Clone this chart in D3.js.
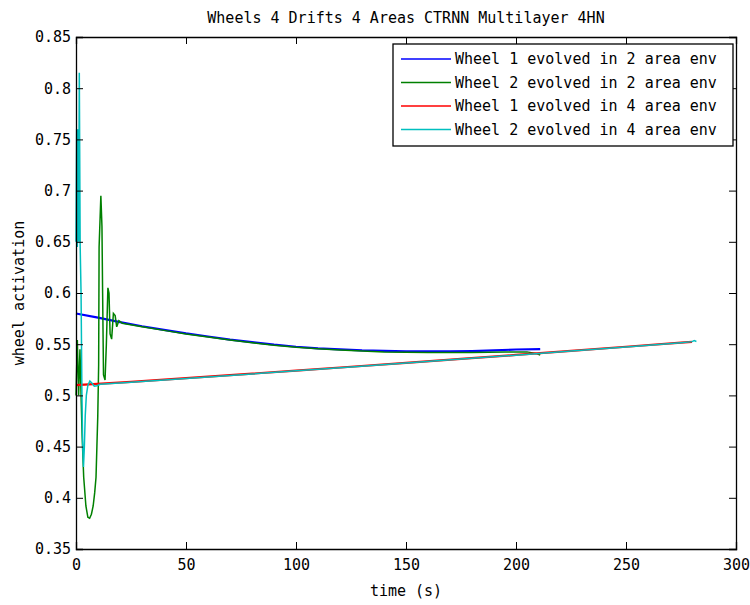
<!DOCTYPE html>
<html>
<head>
<meta charset="utf-8">
<script src="https://cdn.jsdelivr.net/npm/d3@7"></script>
<style>
  body { margin: 0; background: #fff; }
  svg text { font-family: "DejaVu Sans Mono", monospace; fill: #000; }
</style>
</head>
<body>
<svg id="chart" width="750" height="605"></svg>
<script>
// values
const xTicks = [0, 50, 100, 150, 200, 250, 300];
const yTicks = [0.35, 0.4, 0.45, 0.5, 0.55, 0.6, 0.65, 0.7, 0.75, 0.8, 0.85];

const wheel1Area2 = [
  [0, 0.58], [10, 0.576], [20, 0.5715], [30, 0.5675], [40, 0.564], [50, 0.5605],
  [60, 0.5575], [70, 0.5545], [80, 0.552], [90, 0.5495], [100, 0.5475], [110, 0.546],
  [120, 0.545], [130, 0.544], [140, 0.5435], [150, 0.543], [160, 0.543], [170, 0.543],
  [180, 0.5433], [190, 0.544], [200, 0.5448], [211, 0.5452]
];
const wheel2Area2 = [
  [0, 0.5], [0.6, 0.554], [1.2, 0.5], [1.8, 0.545], [2.3, 0.5], [2.8, 0.46],
  [3.5, 0.42], [4.5, 0.392], [5.4, 0.381], [6.2, 0.38], [7, 0.384], [7.8, 0.392],
  [8.5, 0.405], [9.1, 0.42], [9.5, 0.45], [9.9, 0.48], [10.3, 0.53], [10.5, 0.645],
  [11.3, 0.695], [11.8, 0.665], [12.1, 0.6], [12.5, 0.52], [13.2, 0.515], [13.8, 0.55],
  [14.5, 0.605], [15, 0.6], [15.5, 0.56], [16.2, 0.555], [17, 0.58], [17.8, 0.578],
  [18.5, 0.567], [19.5, 0.573], [21, 0.5705], [30, 0.567], [40, 0.5635], [50, 0.56],
  [60, 0.557], [70, 0.5542], [80, 0.5515], [90, 0.549], [100, 0.547], [110, 0.5455],
  [120, 0.5443], [130, 0.5433], [140, 0.5425], [160, 0.542], [180, 0.542], [195, 0.5425],
  [205, 0.5425], [209, 0.541], [211, 0.5395]
];
const wheel1Area4 = [
  [0, 0.51], [25, 0.5132], [50, 0.5168], [75, 0.5205], [100, 0.5242], [125, 0.528],
  [150, 0.5318], [175, 0.5356], [200, 0.5395], [225, 0.5435], [250, 0.5475], [275, 0.5515],
  [280, 0.5522]
];
const wheel2Area4 = [
  [0, 0.65], [0.3, 0.76], [0.6, 0.645], [0.9, 0.76], [1.2, 0.65], [1.5, 0.815],
  [1.9, 0.645], [2.3, 0.6], [2.7, 0.5], [3.0, 0.455], [3.4, 0.43], [3.8, 0.45],
  [4.2, 0.48], [4.7, 0.5], [5.4, 0.51], [6.3, 0.514], [7.2, 0.512], [8.3, 0.509],
  [9.5, 0.5095], [11, 0.5108], [25, 0.5128], [50, 0.5165], [75, 0.5202], [100, 0.524],
  [125, 0.5278], [150, 0.5316], [175, 0.5355], [200, 0.5393], [225, 0.5433],
  [250, 0.5473], [275, 0.5515], [280, 0.5525], [281, 0.5535], [282, 0.5527]
];

const seriesNames = [
  'Wheel 1 evolved in 2 area env',
  'Wheel 2 evolved in 2 area env',
  'Wheel 1 evolved in 4 area env',
  'Wheel 2 evolved in 4 area env'
];
const seriesColors = ['#0000ff', '#008000', '#ff0000', '#00bfbf'];
const seriesWidths = [2.2, 1.5, 2.2, 1.5];
const seriesData = [wheel1Area2, wheel2Area2, wheel1Area4, wheel2Area4];

const margin = { left: 76, right: 14, top: 37, bottom: 56 };
const width = 750, height = 605;

const svg = d3.select('#chart');

const x = d3.scaleLinear().domain([0, 300]).range([margin.left, width - margin.right]);
const y = d3.scaleLinear().domain([0.35, 0.85]).range([height - margin.bottom, margin.top]);

// title and axis labels
svg.append('text')
  .attr('x', (x(0) + x(300)) / 2)
  .attr('y', 23)
  .attr('text-anchor', 'middle')
  .style('font-size', '15px')
  .text('Wheels 4 Drifts 4 Areas CTRNN Multilayer 4HN');

svg.append('text')
  .attr('x', (x(0) + x(300)) / 2)
  .attr('y', 596)
  .attr('text-anchor', 'middle')
  .style('font-size', '15px')
  .text('time (s)');

svg.append('text')
  .attr('transform', `translate(24, ${(y(0.35) + y(0.85)) / 2}) rotate(-90)`)
  .attr('text-anchor', 'middle')
  .style('font-size', '15px')
  .text('wheel activation');

// data lines
const line = d3.line()
  .x(d => x(d[0]))
  .y(d => y(d[1]));

seriesData.forEach((data, i) => {
  svg.append('path')
    .datum(data)
    .attr('fill', 'none')
    .attr('stroke', seriesColors[i])
    .attr('stroke-width', seriesWidths[i])
    .attr('d', line);
});

// axes with inward ticks on all four sides
const tickLen = 7;
const bottomAxis = svg.append('g')
  .attr('transform', `translate(0, ${y(0.35)})`)
  .call(d3.axisBottom(x).tickValues(xTicks).tickSize(-tickLen).tickPadding(10).tickFormat(d3.format('d')));
const topAxis = svg.append('g')
  .attr('transform', `translate(0, ${y(0.85)})`)
  .call(d3.axisTop(x).tickValues(xTicks).tickSize(-tickLen).tickFormat(''));
const leftAxis = svg.append('g')
  .attr('transform', `translate(${x(0)}, 0)`)
  .call(d3.axisLeft(y).tickValues(yTicks).tickSize(-tickLen).tickPadding(5).tickFormat(d => d3.format('')(+d.toFixed(2))));
const rightAxis = svg.append('g')
  .attr('transform', `translate(${x(300)}, 0)`)
  .call(d3.axisRight(y).tickValues(yTicks).tickSize(-tickLen).tickFormat(''));

[bottomAxis, topAxis, leftAxis, rightAxis].forEach(g => {
  g.select('.domain').attr('stroke', '#000').attr('stroke-width', 1.3);
  g.selectAll('.tick line').attr('stroke', '#000');
  g.selectAll('text')
    .style('font-family', '"DejaVu Sans Mono", monospace')
    .style('font-size', '15px')
    .attr('fill', '#000');
});

// legend
const legend = svg.append('g');
legend.append('rect')
  .attr('x', 393).attr('y', 44)
  .attr('width', 340).attr('height', 102)
  .attr('fill', '#fff')
  .attr('stroke', '#000')
  .attr('stroke-width', 1.3);

seriesNames.forEach((name, i) => {
  const ly = 59 + i * 23.5;
  legend.append('line')
    .attr('x1', 401).attr('x2', 451)
    .attr('y1', ly).attr('y2', ly)
    .attr('stroke', seriesColors[i])
    .attr('stroke-width', 1.5);
  legend.append('text')
    .attr('x', 455)
    .attr('y', ly + 5)
    .style('font-size', '15px')
    .text(name);
});
</script>
</body>
</html>
